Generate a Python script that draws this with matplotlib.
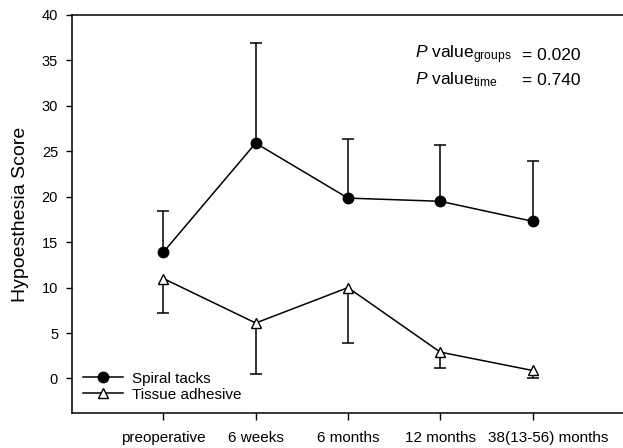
import matplotlib
matplotlib.use("Agg")
import matplotlib.pyplot as plt
import matplotlib.transforms as mtransforms

plt.rcParams['font.family'] = ['Liberation Sans', 'DejaVu Sans']
plt.rcParams['mathtext.fontset'] = 'custom'
plt.rcParams['mathtext.rm'] = 'Liberation Sans'
plt.rcParams['mathtext.it'] = 'Liberation Sans:italic'

timepoints = ['preoperative', '6 weeks', '6 months', '12 months', '38(13-56) months']

# mean scores and standard deviations per group
spiral_mean = [13.9, 25.9, 19.85, 19.5, 17.3]
spiral_sd = [4.55, 11.0, 6.55, 6.2, 6.65]
adhesive_mean = [11.0, 6.1, 10.0, 2.9, 0.88]
adhesive_sd = [3.8, 5.6, 6.15, 1.7, 0.88]

x = list(range(len(timepoints)))

fig = plt.figure(figsize=(6.23, 4.48), dpi=100)
ax = fig.add_axes([72 / 623, 35 / 448, 551 / 623, 398 / 448])


def one_sided_bars(ax, xs, means, sds, sign):
    # vertical whisker plus a cap at the far end only
    ends = [m + sign * s for m, s in zip(means, sds)]
    ax.vlines(xs, means, ends, colors='black', linewidth=1.1, zorder=1)
    ax.plot(xs, ends, linestyle='none', marker='_', markersize=8,
            markeredgewidth=1.1, color='black', zorder=1)


one_sided_bars(ax, x, spiral_mean, spiral_sd, +1)
one_sided_bars(ax, x, adhesive_mean, adhesive_sd, -1)

ax.plot(x, spiral_mean, color='black', linewidth=1.1, marker='o',
        markersize=7.5, markerfacecolor='black', label='Spiral tacks', zorder=3)
ax.plot(x, adhesive_mean, color='black', linewidth=1.1, marker='^',
        markersize=7, markerfacecolor='white', markeredgewidth=1.0,
        label='Tissue adhesive', zorder=3)

ax.set_xlim(-0.99, 4.98)
ax.set_ylim(-3.8, 40)
ax.set_xticks(x)
ax.set_xticklabels(timepoints, fontsize=11)
ax.set_yticks(range(0, 41, 5))
ax.tick_params(axis='y', labelsize=10.5, direction='out', length=4, width=1, pad=6)
ax.tick_params(axis='x', direction='out', length=5, width=1, pad=8)
ax.spines['right'].set_visible(False)
for s in ['left', 'top', 'bottom']:
    ax.spines[s].set_linewidth(1.1)

# last label sits a bit to the right of its tick
last = ax.get_xticklabels()[-1]
last.set_transform(last.get_transform() +
                   mtransforms.ScaledTranslation(0.16, 0, fig.dpi_scale_trans))

ax.set_ylabel('Hypoesthesia Score', fontsize=14, labelpad=9)

# statistics annotation, placed in pixel coordinates
ax.text(415, 393, r'$\it{P}$ value$_{\rm groups}$', transform=None,
        fontsize=12.5, va='center', ha='left')
ax.text(415, 368, r'$\it{P}$ value$_{\rm time}$', transform=None,
        fontsize=12.5, va='center', ha='left')
ax.text(522, 393, '= 0.020', fontsize=12.5, va='center', ha='left', transform=None)
ax.text(522, 368, '= 0.740', fontsize=12.5, va='center', ha='left', transform=None)

ax.legend(loc='lower left', frameon=False, fontsize=11, handlelength=2.6,
          borderaxespad=0.55, labelspacing=0.12, handletextpad=0.6,
          borderpad=0.2)

fig.savefig('out.png', dpi=100)
